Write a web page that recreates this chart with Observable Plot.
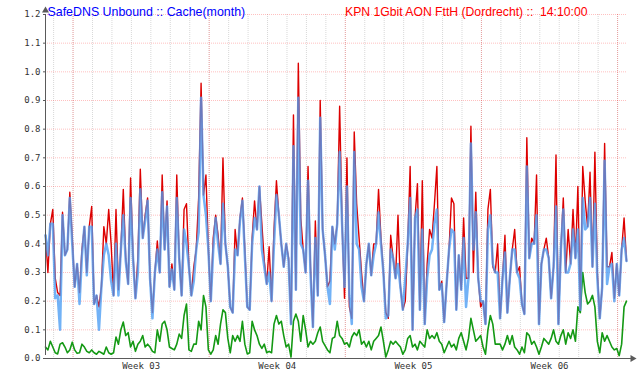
<!DOCTYPE html>
<html><head><meta charset="utf-8">
<script src="https://cdn.jsdelivr.net/npm/d3@7"></script>
<script src="https://cdn.jsdelivr.net/npm/@observablehq/plot@0.6"></script>
<style>body{margin:0;background:#fff} #chart svg{display:block}</style>
</head><body><div id="chart"></div>
<script>
// hours between samples
const STEP = 3;
const titleLeft = "SafeDNS Unbound :: Cache(month)";
const titleRight = "KPN 1Gbit AON FttH (Dordrecht) :: \u00a014:10:00";
const weekLabels = ["Week 03", "Week 04", "Week 05", "Week 06"];
const weekCenters = [118, 286, 454, 622];   // hours from start
const weekStarts = [34, 202, 370, 538, 706]; // hours from start
const dayStarts = d3.range(10, 717, 24);
const yTicks = d3.range(0, 13).map(k => k / 10);

const blue = [
.43,.36,.47,.47,.21,.22,.10,.50,.36,.38,.56,.40,.25,.33,.19,.36,.46,.29,.46,.46,.19,.22,.10,.25,.36,.40,.36,.27,.22,.40,.22,.38,.50,.34,.26,.56,.35,.21,
.30,.59,.42,.48,.55,.28,.14,.30,.38,.30,.58,.38,.53,.25,.31,.24,.56,.35,.22,.45,.40,.32,.22,.27,.38,.44,.91,.57,.50,.38,.20,.38,.49,.40,.33,.54,.40,.32,.18,
.16,.38,.36,.48,.55,.36,.18,.17,.40,.49,.45,.60,.38,.32,.26,.30,.20,.40,.57,.50,.40,.32,.40,.34,.12,.74,.24,.91,.40,.38,.30,.62,.30,.11,.42,.22,.84,.45,.36,
.25,.19,.46,.38,.47,.72,.47,.25,.60,.22,.12,.72,.40,.38,.25,.20,.33,.40,.29,.36,.40,.51,.40,.30,.14,.15,.38,.35,.28,.33,.25,.17,.28,.40,.56,.10,.49,.52,.17,
.45,.12,.28,.36,.38,.47,.52,.24,.26,.127,.26,.38,.45,.44,.17,.36,.24,.42,.18,.28,.75,.38,.51,.28,.20,.20,.12,.45,.50,.33,.30,.30,.14,.28,.37,.16,.28,.38,.38,
.30,.28,.19,.155,.67,.35,.40,.40,.50,.12,.33,.38,.38,.35,.21,.32,.53,.12,.38,.52,.30,.30,.33,.45,.35,.45,.17,.56,.45,.46,.56,.32,.54,.28,.14,.25,.69,.26,.32,.33,.20,.33,.22,.38,.42,.34
];
const red = [
.43,.30,.47,.52,.28,.23,.22,.51,.36,.38,.58,.42,.25,.33,.23,.38,.46,.30,.46,.53,.19,.22,.18,.25,.46,.40,.52,.40,.22,.52,.24,.38,.59,.35,.26,.63,.36,.21,
.35,.66,.42,.50,.56,.28,.16,.30,.41,.30,.64,.38,.55,.25,.33,.24,.64,.35,.22,.52,.54,.32,.22,.32,.38,.56,.96,.57,.64,.38,.20,.42,.50,.43,.33,.70,.40,.32,.18,
.16,.45,.36,.49,.56,.38,.18,.17,.42,.55,.45,.60,.47,.34,.26,.39,.20,.45,.62,.50,.40,.32,.40,.35,.12,.85,.24,1.03,.49,.38,.30,.67,.32,.11,.48,.22,.90,.45,.36,
.25,.27,.46,.40,.47,.88,.47,.21,.70,.18,.14,.79,.54,.42,.30,.20,.33,.40,.29,.40,.40,.59,.42,.30,.16,.14,.43,.35,.28,.50,.25,.17,.20,.40,.67,.10,.49,.61,.17,
.62,.12,.33,.45,.42,.54,.67,.24,.27,.127,.26,.38,.56,.54,.17,.36,.24,.49,.28,.28,.81,.30,.58,.28,.18,.20,.12,.52,.59,.32,.30,.40,.14,.28,.43,.16,.28,.38,.45,
.30,.32,.19,.155,.77,.35,.42,.40,.64,.12,.33,.38,.42,.35,.21,.32,.71,.12,.38,.56,.30,.45,.33,.52,.35,.60,.17,.67,.55,.46,.65,.32,.72,.30,.14,.25,.75,.32,.32,.37,.21,.33,.22,.38,.49,.34
];
const green = [
.04,.03,.06,.04,.02,.016,.05,.055,.04,.02,.03,.057,.03,.018,.02,.05,.04,.025,.02,.03,.02,.015,.025,.02,.015,.04,.02,.015,.02,.075,.05,.1,.127,.08,.09,.04,.06,.025,
.05,.06,.08,.04,.05,.04,.025,.02,.1,.06,.12,.13,.1,.04,.035,.03,.05,.085,.07,.15,.19,.03,.025,.05,.05,.13,.1,.22,.18,.03,.015,.03,.08,.05,.12,.17,.16,.07,.02,
.08,.06,.08,.06,.13,.05,.016,.02,.13,.1,.08,.05,.035,.05,.02,.025,.02,.12,.15,.12,.13,.08,.04,.05,.005,.13,.155,.13,.06,.15,.1,.04,.06,.05,.06,.09,.11,.06,.045,
.03,.02,.07,.075,.13,.08,.07,.05,.055,.04,.075,.09,.08,.1,.05,.06,.04,.06,.03,.06,.07,.08,.11,.06,.005,.03,.06,.05,.06,.05,.04,.015,.03,.07,.08,.04,.05,.03,.06,
.05,.04,.1,.07,.08,.07,.09,.06,.05,.02,.04,.06,.04,.05,.03,.07,.09,.06,.03,.07,.14,.1,.06,.07,.08,.04,.015,.1,.15,.12,.05,.05,.05,.03,.05,.08,.05,.08,.04,
.03,.015,.04,.02,.09,.08,.05,.06,.04,.015,.04,.07,.06,.05,.07,.1,.06,.05,.08,.1,.05,.09,.07,.1,.06,.18,.16,.3,.23,.19,.2,.22,.18,.06,.02,.09,.06,.08,.06,.04,.03,.035,.01,.05,.18,.2
];

const rows = blue.map((b, i) => ({t: i * STEP, blue: b, red: red[i], green: green[i]}));
const tMax = (blue.length - 1) * STEP;
const mono = "DejaVu Sans Mono";
const sans = "Liberation Sans, Arial, sans-serif";
const axisColor = "#5a5a5a";

const chart = Plot.plot({
  width: 640,
  height: 380,
  marginLeft: 45,
  marginRight: 14,
  marginTop: 14,
  marginBottom: 22,
  style: {background: "white", overflow: "visible"},
  x: {domain: [0, tMax], axis: null},
  y: {domain: [0, 1.2], axis: null},
  marks: [
    Plot.ruleX(dayStarts, {stroke: "#a8a8a8", strokeOpacity: 0.45, strokeDasharray: "1,1"}),
    Plot.ruleX(weekStarts, {stroke: "#ff3030", strokeOpacity: 0.35, strokeDasharray: "1,1"}),
    Plot.ruleY(yTicks, {stroke: "#ff3030", strokeOpacity: 0.3, strokeDasharray: "1,1"}),
    Plot.lineY(rows, {x: "t", y: "green", stroke: "#149914", strokeWidth: 1.6}),
    Plot.lineY(rows, {x: "t", y: "red", stroke: "#dd0000", strokeWidth: 1.4}),
    Plot.lineY(rows, {x: "t", y: "blue", stroke: "#4a9cf4", strokeWidth: 2.5, strokeOpacity: 0.78}),
    Plot.ruleX([0], {y1: 0, y2: 1.2, insetTop: -3, stroke: axisColor}),
    Plot.dot([[0, 1.2]], {x: d => d[0], y: d => d[1], symbol: "triangle", r: 2.6, fill: axisColor, stroke: null, dy: -4}),
    Plot.ruleY([0], {x1: 0, x2: tMax, insetRight: -5, stroke: axisColor}),
    Plot.dot([[tMax, 0]], {x: d => d[0], y: d => d[1], symbol: "triangle", rotate: 90, r: 2.6, fill: axisColor, stroke: null, dx: 6}),
    Plot.axisY(yTicks, {tickFormat: d => d.toFixed(1), tickSize: 2, tickPadding: 3, fontFamily: mono, fontSize: 9, color: "#333", stroke: axisColor, label: null}),
    Plot.axisX(weekCenters, {tickFormat: (d, i) => weekLabels[i], tickSize: 0, tickPadding: 4, fontFamily: mono, fontSize: 9, color: "#333", label: null}),
    Plot.text([titleLeft], {frameAnchor: "top-left", textAnchor: "start", dx: 2, dy: -7, fill: "#0000ff", fontSize: 12.4, fontFamily: sans}),
    Plot.text([titleRight], {frameAnchor: "top-right", textAnchor: "end", dx: -39, dy: -7, fill: "#ff0000", fontSize: 12.2, fontFamily: sans})
  ]
});
document.getElementById("chart").appendChild(chart);
</script></body></html>
